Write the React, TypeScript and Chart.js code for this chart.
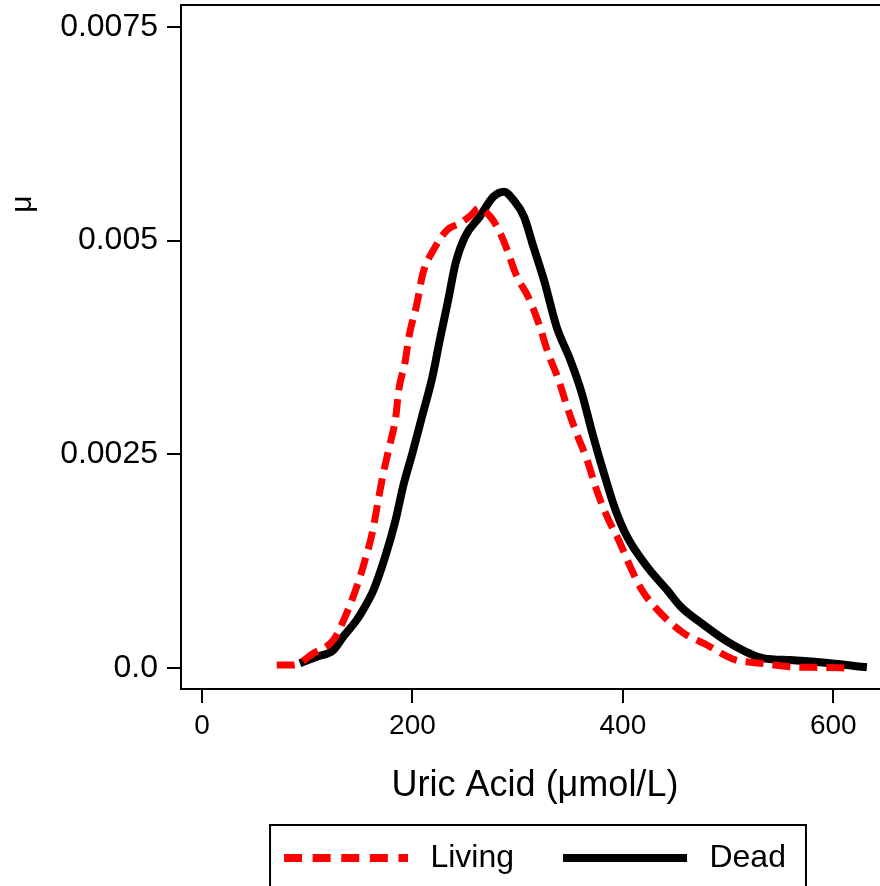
import React, { useEffect, useRef } from "react";
import { Chart, registerables } from "chart.js";

Chart.register(...registerables);

// ---- data ----
const seriesNames = ["Living", "Dead"];

const livingX = [71, 87, 106, 125, 134, 147, 155, 162, 167, 172, 178, 184, 187, 193, 197, 204, 210, 220, 233, 245, 256, 263, 274, 283, 290, 298, 302, 310, 320, 329, 339, 347, 356, 366, 375, 385, 396, 407, 418, 436, 458, 480, 505, 531, 559, 588, 616];
const livingY = [0.000035, 0.000035, 0.000172, 0.000328, 0.000542, 0.000948, 0.001264, 0.001591, 0.001931, 0.002258, 0.002586, 0.002925, 0.003253, 0.00358, 0.003896, 0.004247, 0.004618, 0.004891, 0.005125, 0.005203, 0.0053, 0.005379, 0.005281, 0.005101, 0.004891, 0.004618, 0.004516, 0.004344, 0.004033, 0.003682, 0.00337, 0.003057, 0.002746, 0.002434, 0.002083, 0.001771, 0.001498, 0.001186, 0.000913, 0.00064, 0.000406, 0.000269, 0.000102, 0.000055, 0.000015, 0.000006, 0.0];

const deadX = [93, 109, 125, 134, 147, 153, 163, 174, 184, 191, 200, 209, 219, 226, 234, 241, 250, 264, 277, 287, 296, 306, 315, 325, 337, 350, 361, 371, 382, 393, 404, 423, 442, 455, 477, 502, 534, 559, 597, 632];
const deadY = [0.000055, 0.000132, 0.000211, 0.000363, 0.000562, 0.000679, 0.000913, 0.001299, 0.001732, 0.002118, 0.002516, 0.002937, 0.003405, 0.003838, 0.004306, 0.004735, 0.005046, 0.005281, 0.005514, 0.005573, 0.005476, 0.005281, 0.004929, 0.00454, 0.003993, 0.003604, 0.003214, 0.002746, 0.002278, 0.001849, 0.001536, 0.001185, 0.000913, 0.000718, 0.000503, 0.000289, 0.000113, 0.000094, 0.000055, 0.000008];

const xTicks = [0, 200, 400, 600];
const xTickLabels = ["0", "200", "400", "600"];
const yTicks = [0, 0.0025, 0.005, 0.0075];
const yTickLabels = ["0.0", "0.0025", "0.005", "0.0075"];

const xTitle = "Uric Acid (\u03bcmol/L)";
const yTitle = "\u03bc";

const FONT = "'Liberation Sans', Arial, Helvetica, sans-serif";

const frameAndLabels = {
  id: "frameAndLabels",
  afterDraw(chart: any) {
    const { ctx, chartArea } = chart;
    ctx.save();
    // plot region frame
    ctx.strokeStyle = "#000";
    ctx.lineWidth = 2;
    ctx.setLineDash([]);
    ctx.strokeRect(chartArea.left, chartArea.top, chartArea.right - chartArea.left, chartArea.bottom - chartArea.top);
    // y axis title
    ctx.fillStyle = "#000";
    ctx.font = `30px ${FONT}`;
    ctx.textAlign = "center";
    ctx.textBaseline = "middle";
    ctx.translate(23, 204);
    ctx.rotate(-Math.PI / 2);
    ctx.fillText(yTitle, 0, 0);
    ctx.restore();
    // legend frame
    const lg = chart.legend;
    if (lg && lg.legendHitBoxes && lg.legendHitBoxes.length) {
      const hb = lg.legendHitBoxes;
      const first = hb[0];
      const last = hb[hb.length - 1];
      const l = first.left - 14;
      const t = first.top - 17;
      const r = last.left + last.width + 20;
      ctx.save();
      ctx.strokeStyle = "#000";
      ctx.lineWidth = 2;
      ctx.setLineDash([]);
      ctx.strokeRect(l, t, r - l, 120);
      ctx.restore();
    }
  },
};

export default function App() {
  const ref = useRef<HTMLCanvasElement>(null);

  useEffect(() => {
    document.body.style.margin = "0";
    const canvas = ref.current;
    if (!canvas) return;
    Chart.defaults.font.family = FONT;
    Chart.defaults.color = "#000";

    const chart = new Chart(canvas, {
      type: "line",
      data: {
        datasets: [
          {
            label: seriesNames[0],
            data: livingX.map((x, i) => ({ x, y: livingY[i] })),
            borderColor: "#ff0000",
            backgroundColor: "#ff0000",
            borderWidth: 7,
            borderDash: [18, 9],
            pointRadius: 0,
            fill: false,
            cubicInterpolationMode: "monotone",
          },
          {
            label: seriesNames[1],
            data: deadX.map((x, i) => ({ x, y: deadY[i] })),
            borderColor: "#000000",
            backgroundColor: "#000000",
            borderWidth: 8,
            pointRadius: 0,
            fill: false,
            cubicInterpolationMode: "monotone",
          },
        ],
      },
      options: {
        responsive: false,
        animation: false,
        devicePixelRatio: 1,
        layout: { padding: { left: 0, right: 11, top: 5, bottom: 2 } },
        plugins: {
          tooltip: { enabled: false },
          legend: {
            position: "bottom",
            fullSize: false,
            labels: {
              usePointStyle: true,
              pointStyleWidth: 124,
              padding: 49,
              color: "#000",
              font: { size: 32, family: FONT },
              generateLabels: (c: any) =>
                c.data.datasets.map((ds: any, i: number) => ({
                  text: "\u2009" + ds.label,
                  fillStyle: ds.borderColor,
                  strokeStyle: ds.borderColor,
                  fontColor: "#000",
                  lineWidth: 8,
                  lineDash: i === 0 ? [18, 10.6] : [],
                  lineCap: "butt",
                  pointStyle: "line",
                  hidden: false,
                  datasetIndex: i,
                })),
            },
          },
        },
        scales: {
          x: {
            type: "linear",
            position: "bottom",
            min: -20,
            max: 653,
            afterBuildTicks: (s: any) => {
              s.ticks = xTicks.map((v) => ({ value: v }));
            },
            afterFit: (s: any) => {
              s.height = 104;
              s.paddingLeft = 0;
              s.paddingRight = 0;
            },
            grid: { display: true, drawOnChartArea: false, drawTicks: true, tickLength: 14, color: "#000", lineWidth: 2 },
            border: { display: true, color: "#000", width: 2 },
            ticks: {
              autoSkip: false,
              maxRotation: 0,
              padding: 6,
              color: "#000",
              font: { size: 28, family: FONT },
              callback: (_v: any, i: number) => xTickLabels[i],
            },
            title: {
              display: true,
              text: xTitle,
              color: "#000",
              font: { size: 36, family: FONT },
              padding: { top: 0, bottom: -15 },
            },
          },
          y: {
            type: "linear",
            position: "left",
            min: -0.000246,
            max: 0.007757,
            afterBuildTicks: (s: any) => {
              s.ticks = yTicks.map((v) => ({ value: v }));
            },
            afterFit: (s: any) => {
              s.width = 181;
              s.paddingTop = 0;
              s.paddingBottom = 0;
            },
            grid: { display: true, drawOnChartArea: false, drawTicks: true, tickLength: 14, color: "#000", lineWidth: 2 },
            border: { display: true, color: "#000", width: 2 },
            ticks: {
              autoSkip: false,
              padding: 9,
              color: "#000",
              font: { size: 32, family: FONT },
              callback: (_v: any, i: number) => yTickLabels[i],
            },
            title: { display: false },
          },
        },
      },
      plugins: [frameAndLabels],
    } as any);

    return () => chart.destroy();
  }, []);

  return (
    <div style={{ position: "absolute", left: 0, top: 0, width: 880, height: 886, overflow: "hidden", background: "#fff" }}>
      <canvas ref={ref} width={900} height={886} style={{ display: "block", width: 900, height: 886 }} />
    </div>
  );
}
